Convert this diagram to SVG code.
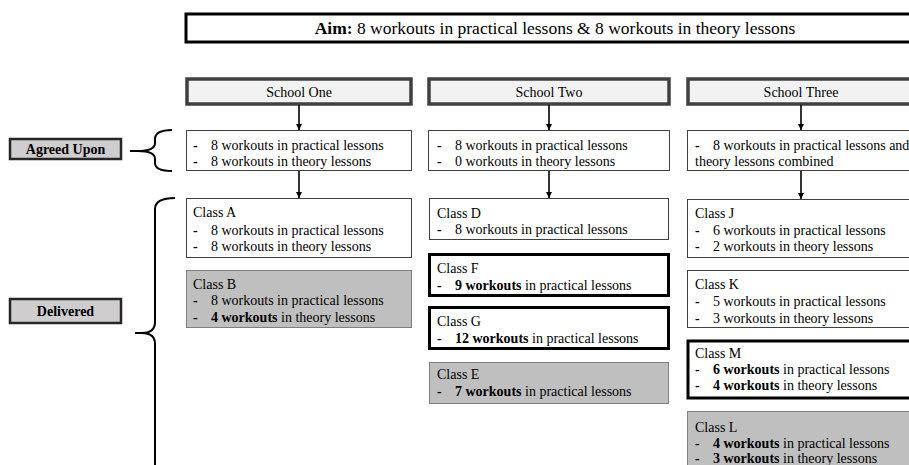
<svg xmlns="http://www.w3.org/2000/svg" width="909" height="465" viewBox="0 0 909 465" font-family="'Liberation Serif', 'Times New Roman', serif">
<style>
text{font-family:'Liberation Serif','Times New Roman',serif;font-size:14px;fill:#000}
.b{font-weight:bold}
.aim{font-size:17.5px}
.school{fill:#f2f2f2;stroke:#404040;stroke-width:3.5}
.label{fill:#cfcdcd;stroke:#262626;stroke-width:2.5}
.plain{fill:#fff;stroke:#404040;stroke-width:1}
.thick{fill:#fff;stroke:#000;stroke-width:3}
.gray{fill:#bfbfbf;stroke:#7f7f7f;stroke-width:1}
.c{stroke:#000;stroke-width:1.6;fill:none}
.brace{stroke:#000;stroke-width:2;fill:none}
</style>
<defs>
<marker id="ah" viewBox="0 0 10 10" refX="10" refY="5" markerWidth="4" markerHeight="4" orient="auto" markerUnits="strokeWidth">
<path d="M0,0 L10,5 L0,10 z" fill="#000"/>
</marker>
</defs>
<rect width="909" height="465" fill="#fff"/>

<g id="aim">
<rect x="186" y="14" width="740" height="28" fill="#fff" stroke="#000" stroke-width="3"/>
<text class="aim" x="555" y="34" text-anchor="middle"><tspan class="b">Aim:</tspan> 8 workouts in practical lessons &amp; 8 workouts in theory lessons</text>
</g>

<g id="school-one">
<rect class="school" x="187" y="79" width="224" height="25"/>
<text x="299" y="97" text-anchor="middle">School One</text>
</g>
<g id="school-two">
<rect class="school" x="429" y="79" width="240" height="25"/>
<text x="549" y="97" text-anchor="middle">School Two</text>
</g>
<g id="school-three">
<rect class="school" x="688" y="79" width="240" height="25"/>
<text x="801" y="97" text-anchor="middle">School Three</text>
</g>

<g id="label-agreed">
<rect class="label" x="10" y="139" width="111" height="20"/>
<text class="b" x="65.5" y="154" text-anchor="middle">Agreed Upon</text>
</g>
<g id="label-delivered">
<rect class="label" x="10" y="299" width="111" height="24"/>
<text class="b" x="65.5" y="316" text-anchor="middle">Delivered</text>
</g>

<g id="agreed-one">
<rect class="plain" x="186.5" y="130.5" width="225" height="40"/>
<text x="193" y="150"><tspan class="b">-</tspan><tspan x="211">8 workouts in practical lessons</tspan></text>
<text x="193" y="166"><tspan class="b">-</tspan><tspan x="211">8 workouts in theory lessons</tspan></text>
</g>
<g id="agreed-two">
<rect class="plain" x="428.5" y="130.5" width="241" height="40"/>
<text x="437" y="150"><tspan class="b">-</tspan><tspan x="455">8 workouts in practical lessons</tspan></text>
<text x="437" y="166"><tspan class="b">-</tspan><tspan x="455">0 workouts in theory lessons</tspan></text>
</g>
<g id="agreed-three">
<rect class="plain" x="687.5" y="130.5" width="240" height="40"/>
<text x="695" y="150"><tspan class="b">-</tspan><tspan x="713">8 workouts in practical lessons and</tspan></text>
<text x="695" y="166">theory lessons combined</text>
</g>

<g id="class-a">
<rect class="plain" x="186.5" y="198.5" width="225" height="59"/>
<text x="193" y="217">Class A</text>
<text x="193" y="235"><tspan class="b">-</tspan><tspan x="211">8 workouts in practical lessons</tspan></text>
<text x="193" y="251"><tspan class="b">-</tspan><tspan x="211">8 workouts in theory lessons</tspan></text>
</g>
<g id="class-b">
<rect class="gray" x="186.5" y="270.5" width="225" height="57"/>
<text x="193" y="289">Class B</text>
<text x="193" y="305"><tspan class="b">-</tspan><tspan x="211">8 workouts in practical lessons</tspan></text>
<text x="193" y="322"><tspan class="b">-</tspan><tspan x="211"><tspan class="b">4 workouts</tspan> in theory lessons</tspan></text>
</g>

<g id="class-d">
<rect class="plain" x="429.5" y="198.5" width="239" height="41"/>
<text x="437" y="218">Class D</text>
<text x="437" y="234"><tspan class="b">-</tspan><tspan x="455">8 workouts in practical lessons</tspan></text>
</g>
<g id="class-f">
<rect class="thick" x="429.5" y="254.5" width="239" height="41"/>
<text x="437" y="273">Class F</text>
<text x="437" y="290"><tspan class="b">-</tspan><tspan x="455"><tspan class="b">9 workouts</tspan> in practical lessons</tspan></text>
</g>
<g id="class-g">
<rect class="thick" x="429.5" y="307.5" width="239" height="41"/>
<text x="437" y="326">Class G</text>
<text x="437" y="343"><tspan class="b">-</tspan><tspan x="455"><tspan class="b">12 workouts</tspan> in practical lessons</tspan></text>
</g>
<g id="class-e">
<rect class="gray" x="429.5" y="362.5" width="239" height="41"/>
<text x="437" y="379">Class E</text>
<text x="437" y="396"><tspan class="b">-</tspan><tspan x="455"><tspan class="b">7 workouts</tspan> in practical lessons</tspan></text>
</g>

<g id="class-j">
<rect class="plain" x="687.5" y="199.5" width="240" height="58"/>
<text x="695" y="218">Class J</text>
<text x="695" y="235"><tspan class="b">-</tspan><tspan x="713">6 workouts in practical lessons</tspan></text>
<text x="695" y="251"><tspan class="b">-</tspan><tspan x="713">2 workouts in theory lessons</tspan></text>
</g>
<g id="class-k">
<rect class="plain" x="687.5" y="270.5" width="240" height="57"/>
<text x="695" y="289">Class K</text>
<text x="695" y="306"><tspan class="b">-</tspan><tspan x="713">5 workouts in practical lessons</tspan></text>
<text x="695" y="323"><tspan class="b">-</tspan><tspan x="713">3 workouts in theory lessons</tspan></text>
</g>
<g id="class-m">
<rect class="thick" x="688" y="341" width="240" height="57"/>
<text x="695" y="358">Class M</text>
<text x="695" y="374"><tspan class="b">-</tspan><tspan x="713"><tspan class="b">6 workouts</tspan> in practical lessons</tspan></text>
<text x="695" y="390"><tspan class="b">-</tspan><tspan x="713"><tspan class="b">4 workouts</tspan> in theory lessons</tspan></text>
</g>
<g id="class-l">
<rect class="gray" x="687.5" y="411.5" width="240" height="70"/>
<text x="695" y="432">Class L</text>
<text x="695" y="448"><tspan class="b">-</tspan><tspan x="713"><tspan class="b">4 workouts</tspan> in practical lessons</tspan></text>
<text x="695" y="463"><tspan class="b">-</tspan><tspan x="713"><tspan class="b">3 workouts</tspan> in theory lessons</tspan></text>
</g>

<g id="connectors">
<line class="c" x1="299" y1="105" x2="299" y2="130" marker-end="url(#ah)"/>
<line class="c" x1="549" y1="105" x2="549" y2="130" marker-end="url(#ah)"/>
<line class="c" x1="801" y1="105" x2="801" y2="130" marker-end="url(#ah)"/>
<line class="c" x1="299" y1="171" x2="299" y2="198" marker-end="url(#ah)"/>
<line class="c" x1="549" y1="171" x2="549" y2="198" marker-end="url(#ah)"/>
<line class="c" x1="801" y1="171" x2="801" y2="199" marker-end="url(#ah)"/>
<path class="brace" d="M172,130 Q155,130 155,139 L155,143 Q155,151 138,151 L130,151 M138,151 Q155,151 155,159 L155,163 Q155,171 172,171"/>
<path class="brace" d="M175,198 Q155,198 155,209 L155,322 Q155,333 142,333 L135,333 M142,333 Q155,333 155,344 L155,470"/>
</g>
</svg>
